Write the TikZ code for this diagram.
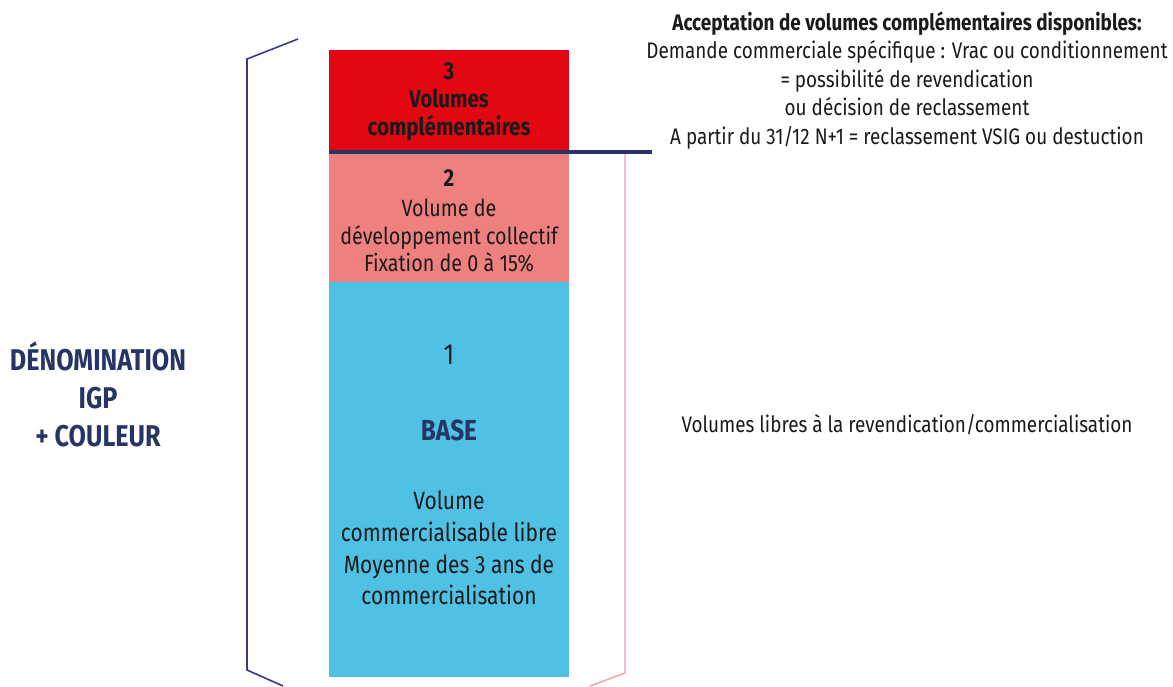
\documentclass[tikz,border=0pt]{standalone}
\usepackage{fontspec}
\setmainfont{Fira Sans}[FakeStretch=0.84]
\definecolor{cred}{HTML}{E30613}
\definecolor{cpink}{HTML}{EF8080}
\definecolor{cblue}{HTML}{4FC1E4}
\definecolor{cnavy}{HTML}{263566}
\definecolor{cbrack}{HTML}{3B3A8A}
\definecolor{cbrackpink}{HTML}{F0A0A8}
\definecolor{ctext}{HTML}{1A1A1A}
\tikzset{
  block/.style={draw=none, minimum width=240pt, inner sep=0pt, outer sep=0pt},
  txt/.style={align=center, text=ctext, inner sep=0pt, font=\fontsize{23.5}{27.5}\selectfont},
  btxt/.style={align=center, text=ctext, inner sep=0pt, font=\fontsize{24.5}{28}\selectfont\bfseries},
  rtxt/.style={align=center, text=ctext, inner sep=0pt, font=\fontsize{22.5}{28.5}\selectfont},
  navytxt/.style={align=center, text=cnavy, inner sep=0pt, font=\fontsize{30}{38}\selectfont\bfseries},
}
\begin{document}
\begin{tikzpicture}[x=1pt,y=-1pt]
\useasboundingbox (0,0) rectangle (1173,686);
% blocks
\node[block, fill=cred, minimum height=102pt, anchor=north west] (b3) at (329,50) {};
\node[block, fill=cpink, minimum height=130pt, anchor=north west] (b2) at (329,152) {};
\node[block, fill=cblue, minimum height=395pt, anchor=north west] (b1) at (329,282) {};
% block texts
\node[btxt] (t3) at (449,102) {3\\Volumes\\complémentaires};
\node[btxt] (t2a) at (449,178) {2};
\node[txt] (t2) at (449,236) {Volume de\\développement collectif\\Fixation de 0 à 15\%};
\node[txt, font=\fontsize{29}{30}\selectfont] (t1a) at (449,355) {1};
\node[navytxt, font=\fontsize{29}{30}\selectfont\bfseries] (t1b) at (449,430) {BASE};
\node[txt, font=\fontsize{25}{31.7}\selectfont] (t1) at (449,548) {Volume\\commercialisable libre\\Moyenne des 3 ans de\\commercialisation};
% left label
\node[navytxt] (den) at (98,394) {DÉNOMINATION\\IGP\\+ COULEUR};
% brackets
\coordinate (lb1) at (298,39);
\coordinate (lb2) at (247,59);
\coordinate (lb3) at (247,670);
\coordinate (lb4) at (283,686);
\draw[cbrack, line width=1.6pt] (lb1) -- (lb2) -- (lb3) -- (lb4);
\coordinate (rb1) at (625,153);
\coordinate (rb2) at (625,673);
\coordinate (rb3) at (590,686);
\draw[cbrackpink, line width=1.4pt] (rb1) -- (rb2) -- (rb3);
% navy separator
\coordinate (sepend) at (652,152);
\draw[cnavy, line width=3.5pt] (b3.south west) -- (sepend);
% right texts
\node[rtxt] (acc) at (907,80) {{\bfseries Acceptation de volumes complémentaires disponibles:}\\Demande commerciale spécifique : Vrac ou conditionnement\\= possibilité de revendication\\ou décision de reclassement\\A partir du 31/12 N+1 = reclassement VSIG ou destuction};
\node[rtxt] (libres) at (907,425) {Volumes libres à la revendication/commercialisation};
\end{tikzpicture}
\end{document}
